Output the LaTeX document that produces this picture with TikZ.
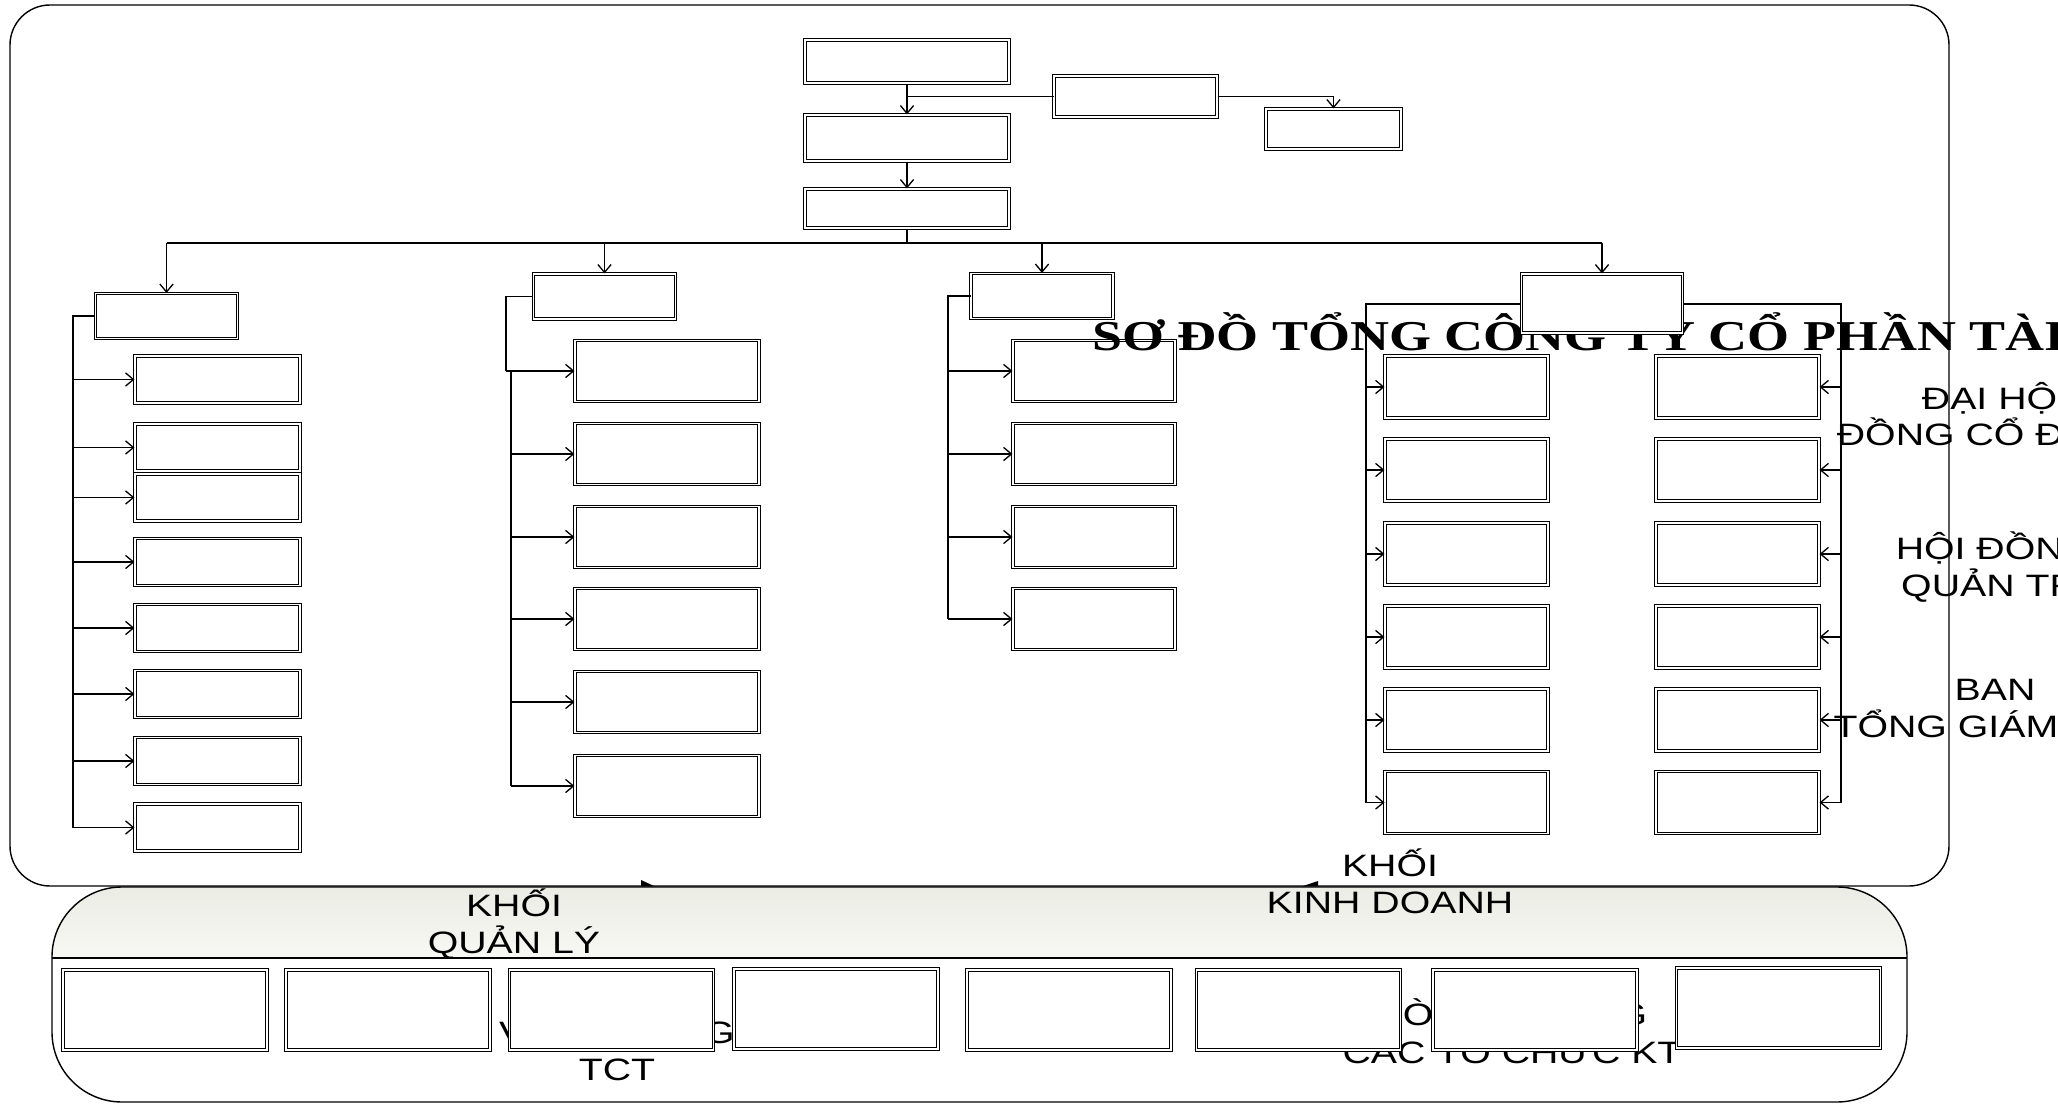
\documentclass[tikz,border=0pt]{standalone}
\usepackage{fontspec}
\usetikzlibrary{arrows.meta,calc}
\newfontfamily\chartserif[FakeStretch=1.27]{Liberation Serif}
\newfontfamily\chartsans[FakeStretch=1.27]{Liberation Sans}
\definecolor{paper}{HTML}{FFFFFF}
\definecolor{ink}{HTML}{000000}
\definecolor{bandtop}{HTML}{EBECE4}
\definecolor{bandbottom}{HTML}{F8F8F4}
\tikzset{
  panel/.style={draw=ink,line width=.8pt},
  link/.style={draw=ink,line width=.75pt},
  arr/.style={link,-{Straight Barb[length=4.5pt,width=7.5pt]}},
  orgbox/.style={draw=ink,double=paper,double distance=1pt,line width=.6pt,
                 fill=paper,inner sep=0pt},
  topbox/.style={orgbox,minimum width=4.08cm},
  headbox/.style={orgbox,minimum width=2.84cm,minimum height=.90cm},
  colAbox/.style={orgbox,minimum width=3.30cm,minimum height=.94cm},
  colBbox/.style={orgbox,minimum width=3.68cm,minimum height=1.22cm},
  colCbox/.style={orgbox,minimum width=3.24cm,minimum height=1.22cm},
  colDbox/.style={orgbox,minimum width=3.26cm,minimum height=1.24cm},
  basebox/.style={orgbox,minimum width=4.08cm,minimum height=1.60cm},
  blocktext/.style={font=\blockfont,align=center,anchor=base,inner sep=0pt,text=ink}
}
\newcommand{\titlesize}{\chartserif\bfseries\fontsize{24.2}{29}\selectfont}
\newcommand{\blockfont}{\chartsans\fontsize{17.6}{20.9}\selectfont}

\begin{document}
\begin{tikzpicture}[x=0.02cm,y=-0.02cm]
  \useasboundingbox (0,0) rectangle (2058,1104);
  \clip (0,0) rectangle (2058,1104);
  \fill[paper] (0,0) rectangle (2058,1104);

  % ======================== UPPER PANEL ========================
  \draw[panel,fill=paper,rounded corners=.8cm] (10,5) rectangle (1949,886);

  % top chain
  \node[topbox,minimum height=.86cm] (b1) at (907,61.5) {};
  \node[topbox,minimum height=.92cm] (b2) at (907,138) {};
  \node[topbox,minimum height=.78cm] (b3) at (907,208.5) {};
  \node[orgbox,minimum width=3.26cm,minimum height=.82cm] (s1) at (1135.5,96.5) {};
  \node[orgbox,minimum width=2.70cm,minimum height=.80cm] (s2) at (1333.5,129) {};

  \draw[arr] (b1) -- (b2);
  \draw[arr] (b2) -- (b3);
  \draw[link] (s1.west) -- (s1.west -| b1);
  \draw[arr] (s1.east) -| (s2.north);

  % branch heads
  \node[headbox] (h1) at (166.5,316) {};
  \node[headbox] (h2) at (604.5,296.5) {};
  \node[headbox] (h3) at (1042,296) {};

  \coordinate (bus) at (907,243);
  \draw[link] (b3.south) -- (bus);
  \draw[link] (bus -| h1) -- (bus -| 1602,0);
  \foreach \h in {h1,h2,h3}
    \draw[arr] (bus -| \h) -- (\h.north);

  % first column
  \foreach \i/\y in {1/379.5,2/447.5,3/497.5,4/562,5/628,6/694,7/761,8/827.5}
    \node[colAbox] (c\i) at (217.5,\y) {};
  \coordinate (trunkA) at (73,316);
  \draw[link] (h1.west) -- (trunkA) -- (trunkA |- c8);
  \foreach \i in {1,...,8}
    \draw[arr] (trunkA |- c\i) -- (c\i.west);

  % second column
  \foreach \i/\y in {1/371,2/454,3/537,4/619,5/702,6/786}
    \node[colBbox] (d\i) at (667,\y) {};
  \coordinate (trunkB) at (506,296.5);
  \coordinate (trunkBb) at (511,371);
  \draw[link] (h2.west) -- (trunkB) -- (trunkB |- d1);
  \draw[arr] (trunkB |- d1) -- (d1.west);
  \draw[link] (trunkBb) -- (trunkBb |- d6);
  \foreach \i in {2,...,6}
    \draw[arr] (trunkBb |- d\i) -- (d\i.west);

  % third column
  \foreach \i/\y in {1/371,2/454,3/537,4/619}
    \node[colCbox] (e\i) at (1094,\y) {};
  \coordinate (trunkC) at (948,296);
  \draw[link] (h3.west) -- (trunkC) -- (trunkC |- e4);
  \foreach \i in {1,...,4}
    \draw[arr] (trunkC |- e\i) -- (e\i.west);

  % fourth column: framed pair of stacks
  \foreach \i/\y in {1/387,2/470,3/554,4/637,5/720,6/802.5}{
    \node[colDbox] (g\i) at (1466.5,\y) {};
    \node[colDbox] (k\i) at (1737.5,\y) {};
  }
  \coordinate (frameL) at (1366,304);
  \coordinate (frameR) at (1841,304);
  \draw[link] (frameL |- g6) -- (frameL) -- (frameR) -- (frameR |- k6);
  \foreach \i in {1,...,6}{
    \draw[arr] (frameL |- g\i) -- (g\i.west);
    \draw[arr] (frameR |- k\i) -- (k\i.east);
  }

  % heading laid over the chart
  \node[anchor=base west,inner sep=0pt,font=\titlesize,text=ink] (title) at (1092,351)
    {SƠ ĐỒ TỔNG CÔNG TY CỔ PHẦN TÀI};

  \node[orgbox,minimum width=3.22cm,minimum height=1.18cm] (h4) at (1602,303.5) {};
  \draw[arr] (bus -| h4) -- (h4.north);

  % side labels (base = last line)
  \node[blocktext] (agm) at (1995,446) {ĐẠI HỘI\\ĐỒNG CỔ ĐÔNG};
  \node[blocktext] (board) at (1995,596) {HỘI ĐỒNG\\QUẢN TRỊ};
  \node[blocktext] (ceo) at (1995,737) {BAN\\TỔNG GIÁM ĐỐC};

  % ======================== LOWER PANEL ========================
  \fill[ink] (641,880) -- (641,886) -- (654,886) -- cycle;
  \fill[ink] (1318,881) -- (1318,886) -- (1303,886) -- cycle;

  \begin{scope}
    \clip[rounded corners=1.4cm] (52,887) rectangle (1907,1102);
    \fill[paper] (52,887) rectangle (1907,1102);
    \shade[top color=bandtop,bottom color=bandbottom] (52,887) rectangle (1907,958);
  \end{scope}
  \draw[link] (52,958) -- (1907,958);
  \draw[panel,rounded corners=1.4cm] (52,887) rectangle (1907,1102);

  \node[blocktext] (mgmt) at (514,953) {KHỐI\\QUẢN LÝ};
  \node[blocktext] (biz) at (1390,913) {KHỐI\\KINH DOANH};
  \node[blocktext] (office) at (617,1080) {VĂN PHÒNG\\TCT};
  \node[blocktext,anchor=base west] (orgsA) at (1348,1025) {PHÒNG CHUNG};
  \node[blocktext] (orgsB) at (1512,1063) {CÁC TỔ CHỨC KT};

  \foreach \i/\x/\y in {1/165/1010,2/388/1010,3/611.5/1010,4/836/1009,
                        5/1069/1010,6/1298.5/1010,7/1535/1010,8/1778.5/1008}
    \node[basebox] (f\i) at (\x,\y) {};
\end{tikzpicture}
\end{document}
